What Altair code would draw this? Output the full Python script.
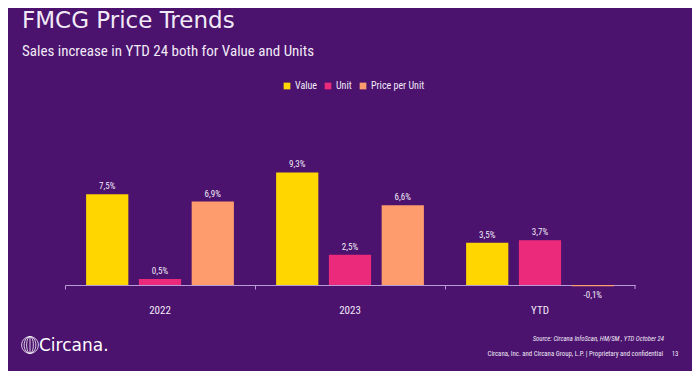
import altair as alt
import pandas as pd

periods = ["2022", "2023", "YTD"]
series = ["Value", "Unit", "Price per Unit"]
value = [7.5, 9.3, 3.5]
unit = [0.5, 2.5, 3.7]
ppu = [6.9, 6.6, -0.1]
colors = ["#FFD600", "#EC2A7C", "#FF9C6E"]

title = "FMCG Price Trends"
subtitle = "Sales increase in YTD 24 both for Value and Units"
source = "Source: Circana InfoScan, HM/SM , YTD October 24"
legal = "Circana, Inc. and Circana Group, L.P. |  Proprietary and confidential"
page_no = "13"
brand = "Circana."

rows = []
for i, p in enumerate(periods):
    for s, vals in zip(series, [value, unit, ppu]):
        v = vals[i]
        rows.append({"period": p, "series": s, "v": v,
                     "label": f"{v:.1f}%".replace(".", ",")})
df = pd.DataFrame(rows)

BG = "#4B126E"
TXT = "#F1EAF6"
NARROW = "Roboto Condensed, Liberation Sans Narrow, DejaVu Sans Condensed, Roboto"

xenc = alt.X("period:N", sort=periods, title=None,
             scale=alt.Scale(paddingInner=0, paddingOuter=0),
             axis=alt.Axis(labelAngle=0, bandPosition=0, domainColor="#B99BD8",
                           tickColor="#B99BD8", tickSize=4, labelColor=TXT,
                           labelFontSize=11, labelFont=NARROW, labelPadding=15,
                           grid=False))
xoff = alt.XOffset("series:N", sort=series,
                   scale=alt.Scale(paddingInner=0.2, paddingOuter=0.4))
yenc = alt.Y("v:Q", axis=None, scale=alt.Scale(domain=[0, 10], nice=False, zero=True))

base = alt.Chart(df)

bars = base.mark_bar().encode(
    x=xenc, xOffset=xoff, y=yenc,
    color=alt.Color("series:N", sort=series,
                    scale=alt.Scale(domain=series, range=colors),
                    legend=alt.Legend(title=None, orient="none", direction="horizontal",
                                      legendX=217, legendY=-83, symbolType="square",
                                      symbolSize=45, symbolStrokeWidth=0,
                                      labelColor=TXT, labelFontSize=10, labelFont=NARROW,
                                      labelOffset=3, columnPadding=6)),
)

pos_labels = base.transform_filter("datum.v >= 0").mark_text(
    baseline="bottom", dy=-3, fontSize=9, font=NARROW, color=TXT
).encode(x=xenc, xOffset=xoff, y=yenc, text="label:N")

neg_labels = base.transform_filter("datum.v < 0").mark_text(
    baseline="top", dy=5, fontSize=9, font=NARROW, color=TXT
).encode(x=xenc, xOffset=xoff, y=yenc, text="label:N")

end_tick = alt.Chart(pd.DataFrame({"a": [0]})).mark_rule(color="#B99BD8").encode(
    x=alt.value(570), y=alt.value(121), y2=alt.value(125))


def note(text, x, y, **kw):
    return alt.Chart(pd.DataFrame({"t": [text]})).mark_text(**kw).encode(
        text="t:N", x=alt.value(x), y=alt.value(y))


t1 = note(title, -43, -136, align="left", baseline="alphabetic", fontSize=23,
          font="DejaVu Sans", color=TXT)
t2 = note(subtitle, -43, -108, align="left", baseline="alphabetic", fontSize=15,
          font=NARROW, color=TXT)
t3 = note(source, 599, 175, align="right", baseline="middle", fontSize=6.7,
          font=NARROW, fontStyle="italic", color=TXT)
t4 = note(legal, 598, 190, align="right", baseline="middle", fontSize=6.8,
          font=NARROW, color=TXT)
t5 = note(page_no, 610, 190, align="center", baseline="middle", fontSize=6.8,
          font=NARROW, color=TXT)
t6 = note(brand, -26, 182, align="left", baseline="middle", fontSize=17,
          font="DejaVu Sans", color="#FFFFFF")

logo_path = ("M0,-1A1,1 0 1,1 0,1A1,1 0 1,1 0,-1Z"
             "M0,-1A0.7,1 0 1,1 0,1A0.7,1 0 1,1 0,-1Z"
             "M0,-1A0.4,1 0 1,1 0,1A0.4,1 0 1,1 0,-1Z"
             "M0,-1L0,1")
logo = alt.Chart(pd.DataFrame({"a": [0]})).mark_point(
    shape=logo_path, filled=False, stroke="#FFFFFF", strokeWidth=0.8, size=280, opacity=1
).encode(x=alt.value(-35), y=alt.value(181))

chart = alt.layer(bars, pos_labels, neg_labels, end_tick, t1, t2, t3, t4, t5, t6, logo).properties(
    width=570, height=121,
    autosize=alt.AutoSizeParams(type="none"),
    padding={"left": 57, "top": 156, "right": 57, "bottom": 86},
    background=BG,
).configure_view(stroke=None)

chart.save("out.html", embed_options={"renderer": "svg", "actions": False})
